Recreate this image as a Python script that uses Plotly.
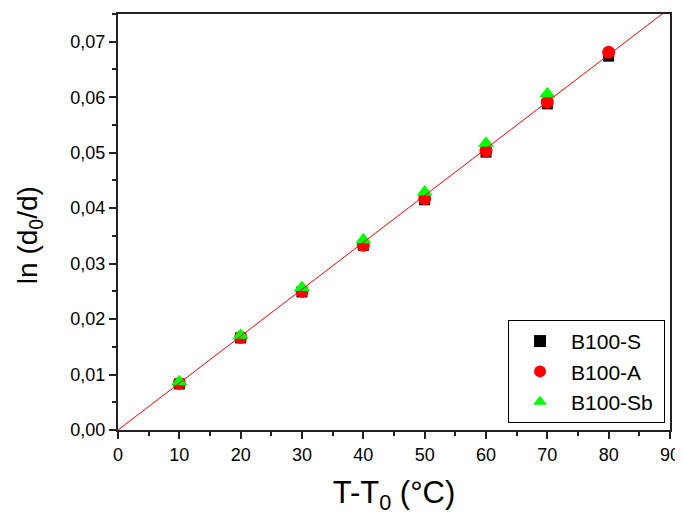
import plotly.graph_objects as go
import numpy as np

temps = [10, 20, 30, 40, 50, 60, 70, 80]
b100_s = [0.0083, 0.0166, 0.0249, 0.0333, 0.0415, 0.0501, 0.0588, 0.0674]
b100_a = [0.0084, 0.0167, 0.0250, 0.0333, 0.0417, 0.0503, 0.0591, 0.0681]
temps_sb = [10, 20, 30, 40, 50, 60, 70]
b100_sb = [0.0087, 0.0171, 0.0257, 0.0343, 0.0429, 0.0517, 0.0606]

# linear fit through origin
allx = np.array(temps + temps + temps_sb, dtype=float)
ally = np.array(b100_s + b100_a + b100_sb)
slope = float((allx * ally).sum() / (allx * allx).sum())
fit_x = [0, 90]
fit_y = [slope * v for v in fit_x]

font = "Liberation Sans, Arial, sans-serif"
fig = go.Figure()
fig.add_trace(go.Scatter(x=temps, y=b100_s, mode="markers", name="B100-S ",
                         marker=dict(symbol="square", size=11, color="black")))
fig.add_trace(go.Scatter(x=temps, y=b100_a, mode="markers", name="B100-A ",
                         marker=dict(symbol="circle", size=13, color="#ff0000")))
fig.add_trace(go.Scatter(x=temps_sb, y=b100_sb, mode="markers", name="B100-Sb ",
                         marker=dict(symbol="triangle-up", size=14, color="#00ff00")))
fig.add_trace(go.Scatter(x=fit_x, y=fit_y, mode="lines", showlegend=False,
                         line=dict(color="#ff0000", width=1)))

axis_common = dict(showline=True, linecolor="#222", linewidth=2, mirror=True,
                   ticks="outside", ticklen=7, tickwidth=1.5, tickcolor="#222",
                   showgrid=False, zeroline=False, automargin=False,
                   tickfont=dict(family=font, size=18, color="black"))
fig.update_layout(
    width=675, height=507,
    paper_bgcolor="white", plot_bgcolor="white",
    margin=dict(l=110, r=13, t=6, b=85),
    separators=", ",
    font=dict(family=font, color="black"),
    xaxis=dict(range=[0, 90], dtick=10, tick0=0,
               minor=dict(ticks="outside", dtick=5, ticklen=4, tickcolor="#222"),
               title=dict(text="T-T<sub>0</sub> (°C)", font=dict(family=font, size=31), standoff=18),
               **axis_common),
    yaxis=dict(range=[0, 0.075], dtick=0.01, tick0=0, tickformat=".2f",
               minor=dict(ticks="outside", dtick=0.005, ticklen=4, tickcolor="#222"),
               **axis_common),
    legend=dict(x=0.991, y=0.017, xanchor="right", yanchor="bottom",
                bgcolor="white", bordercolor="black", borderwidth=1,
                font=dict(family=font, size=21), itemsizing="constant",
                tracegroupgap=0, itemwidth=52),
    annotations=[dict(text="ln (d<sub>0</sub>/d)", textangle=-90, showarrow=False,
                      xref="paper", yref="paper", x=-0.159, y=0.469,
                      xanchor="center", yanchor="middle",
                      font=dict(family=font, size=28, color="black"))],
)
fig.write_html("out.html")
